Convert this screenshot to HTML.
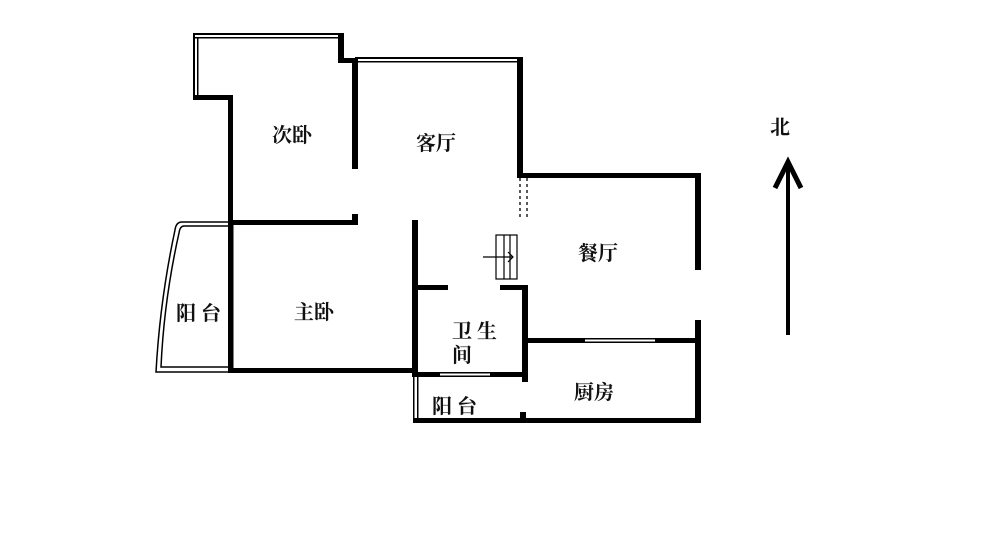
<!DOCTYPE html>
<html><head><meta charset="utf-8"><style>
html,body{margin:0;padding:0;background:#fff;}
svg{display:block}
text{font-family:"Liberation Serif","Noto Serif CJK SC","Noto Sans CJK SC",serif;font-size:20px;fill:#111;font-weight:bold}
</style></head><body>
<svg width="1000" height="556" viewBox="0 0 1000 556" xmlns="http://www.w3.org/2000/svg">
<rect width="1000" height="556" fill="#fff"/>
<g fill="#000">
<!-- top-left balcony -->
<rect x="193" y="33" width="149" height="2"/>
<rect x="195" y="37" width="147" height="1.5"/>
<rect x="193" y="33" width="2" height="66"/>
<rect x="197" y="37" width="1.5" height="60"/>
<rect x="338" y="33" width="6" height="30"/>
<rect x="338" y="58" width="20" height="5"/>
<rect x="193" y="95" width="40" height="5"/>
<rect x="228" y="95" width="5" height="278"/>
<!-- living room top -->
<rect x="355" y="57" width="165" height="2"/>
<rect x="358" y="61" width="162" height="1.5"/>
<rect x="352" y="58" width="6" height="111"/>
<rect x="517" y="57" width="6" height="120"/>
<rect x="517" y="173" width="183" height="5"/>
<!-- 次卧 bottom -->
<rect x="228" y="220" width="130" height="5"/>
<rect x="352" y="214" width="6" height="11"/>
<!-- 主卧 bottom -->
<rect x="228" y="368" width="190" height="5"/>
<!-- vertical hall wall -->
<rect x="412" y="220" width="6" height="157"/>
<!-- bathroom -->
<rect x="418" y="285" width="30" height="5"/>
<rect x="500" y="285" width="28" height="5"/>
<rect x="522" y="285" width="6" height="97"/>
<rect x="418" y="372" width="22" height="5"/>
<rect x="490" y="372" width="38" height="5"/>
<rect x="440" y="372" width="50" height="1.5"/>
<rect x="440" y="375.5" width="50" height="1.5"/>
<!-- kitchen top -->
<rect x="528" y="338" width="57" height="5"/>
<rect x="655" y="338" width="45" height="5"/>
<rect x="585" y="338" width="70" height="1.5"/>
<rect x="585" y="341.5" width="70" height="1.5"/>
<!-- dining right -->
<rect x="695" y="173" width="6" height="97"/>
<rect x="695" y="320" width="6" height="103"/>
<!-- bottom -->
<rect x="413" y="418" width="288" height="5"/>
<rect x="520" y="412" width="6" height="8"/>
<!-- lower balcony window -->
<rect x="413" y="377" width="1.5" height="43"/>
<rect x="417" y="377" width="1.5" height="43"/>
<!-- left balcony window -->
<rect x="232" y="225" width="1.5" height="145"/>
</g>
<!-- dashed door -->
<g stroke="#000" stroke-width="1.3" stroke-dasharray="3,3">
<line x1="520" y1="178" x2="520" y2="220"/>
<line x1="527" y1="178" x2="527" y2="220"/>
</g>
<!-- left balcony curve -->
<g fill="none" stroke="#000" stroke-width="1.5">
<path d="M230 222 L182 222 Q176 222 175 230 Q160 300 156 372 L230 372"/>
<path d="M230 226 L184 226 Q180 226 179 233 Q164 300 161 367 L230 367"/>
</g>
<!-- stairs -->
<g fill="none" stroke="#000" stroke-width="1.2">
<rect x="496" y="235" width="21" height="44"/>
<line x1="504" y1="235" x2="504" y2="279"/>
<line x1="510" y1="235" x2="510" y2="279"/>
<line x1="483" y1="257" x2="513" y2="257"/>
<polyline points="508,252 513,257 508,262"/>
</g>
<!-- north arrow -->
<line x1="788" y1="165" x2="788" y2="335" stroke="#000" stroke-width="4"/>
<polyline points="775,188 788,162 801,188" fill="none" stroke="#000" stroke-width="5"/>
<text x="770" y="134">北</text>
<text x="272" y="142">次卧</text>
<text x="416" y="150">客厅</text>
<text x="578" y="260">餐厅</text>
<text x="294" y="319">主卧</text>
<text x="176" y="320">阳 台</text>
<text x="452" y="338">卫 生</text>
<text x="452" y="362">间</text>
<text x="432" y="413">阳 台</text>
<text x="574" y="399">厨房</text>
</svg>
</body></html>
